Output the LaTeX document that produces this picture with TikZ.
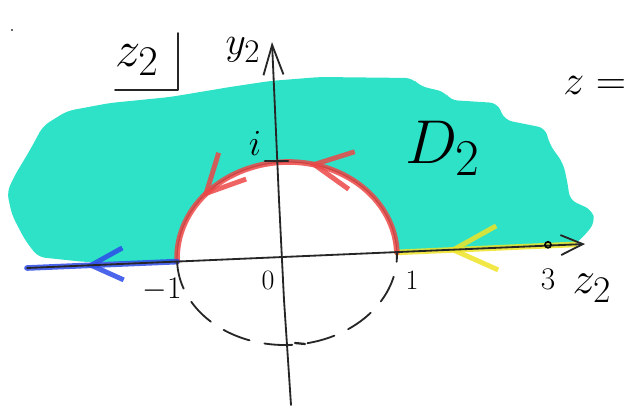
\documentclass[tikz,border=0pt]{standalone}
\usepackage{amsmath}
\usetikzlibrary{arrows.meta,decorations.markings}

\definecolor{sea}{RGB}{46,226,200}
\definecolor{chalkred}{RGB}{236,72,72}
\definecolor{chalkblue}{RGB}{45,75,232}
\definecolor{chalkyellow}{RGB}{238,228,40}

\newcommand{\hand}[2]{\scalebox{#1}{$#2$}}

\tikzset{
  pen/.style={line width=1.3pt,black!85,line cap=round,line join=round},
  chalk/.style={line width=4pt,opacity=0.85,line cap=round},
  barb/.style 2 args={postaction={decorate,decoration={markings,
      mark=at position #1 with {\arrow{Straight Barb[length=#2,width=#2,line width=3.5pt]}}}}},
  lbl/.style={inner sep=0pt,font=\Huge},
  dot/.style={circle,draw,line width=1.2pt,inner sep=0pt,minimum size=0.15cm},
}

\begin{document}
\begin{tikzpicture}[x=0.025cm,y=-0.025cm]
            \useasboundingbox (0,0) rectangle (625,408);
            \coordinate (xl) at (27,268);
            \coordinate (xr) at (585,244);
            \coordinate (ye) at (575,244.4);
            \coordinate (m1) at (177.1,261.6);
            \coordinate (p1) at (396.9,252.4);
            \coordinate (ybot) at (291,405);
            \coordinate (ytop) at (272,42);

            % the shaded domain above the half disc
            \fill[sea,rounded corners=5pt] (p1) -- (ye) -- (586,234) -- (595,222)
              -- (592,210) -- (570,200) -- (567,180) -- (563,163) -- (550,145)
              -- (545,128) -- (505,120) -- (497,103) -- (450,100) -- (445,92)
              -- (420,86) -- (412,78) -- (320,77) -- (270,81) -- (230,87)
              -- (170,97) -- (110,103) -- (67,111) -- (43,126) -- (30,150)
              -- (15,175) -- (7,192) -- (12,215) -- (25,240) -- (38,257)
              -- (85,262) -- (m1)
              -- plot[smooth,domain=180:0,samples=37]
                 ({287+109.9*cos(\x)-3.9*sin(\x)},{257-4.6*cos(\x)-94.9*sin(\x)})
              -- cycle;

            % boundary pieces
            \draw[chalk,chalkyellow,barb={0.715}{1.1cm}] (ye) -- (p1);
            \draw[pen,line width=0.9pt] plot[smooth,domain=0:180,samples=37]
                 ({287+109.9*cos(\x)-3.9*sin(\x)},{257-4.6*cos(\x)-94.9*sin(\x)});
            \draw[chalk,chalkred,barb={0.42}{0.95cm},barb={0.78}{0.95cm}]
                 plot[smooth,domain=0:180,samples=37]
                 ({287+109.9*cos(\x)-3.9*sin(\x)},{257-4.6*cos(\x)-94.9*sin(\x)});
            \draw[chalk,chalkblue,barb={0.61}{0.8cm}] (m1) -- (xl);

            % lower half of the circle
            \draw[pen,dash pattern=on 0.7cm off 0.38cm] plot[smooth,domain=180:360,samples=37]
                 ({287+109.9*cos(\x)-3.6*sin(\x)},{257-4.6*cos(\x)-87.9*sin(\x)});

            % axes
            \draw[pen,-{Straight Barb[length=0.55cm,width=0.5cm]}] (xl) -- (xr);
            \draw[pen,-{Straight Barb[length=0.75cm,width=0.5cm]}] (ybot) -- (284,300)
              -- (279,200) -- (ytop);
            \draw[pen,line width=2pt] (265,161) -- (288,161);
            \draw[pen,line width=1.6pt] (295,343) -- (305,344);
            \node[dot] (pt3) at (548,244.8) {};
            \fill[black!80] (12,30) circle (1.2);

            % labels
            \node[lbl] (zbox) at (137,60) {\hand{1.45}{z_2}};
            \draw[pen] (178,33) -- (178,90) -- (115,90);
            \node[lbl] (ylab) at (243,50) {\hand{1.13}{y_2}};
            \node[lbl] (ilab) at (255,143) {\hand{1.05}{i}};
            \node[lbl] (dlab) at (443,148) {\hand{1.77}{D_2}};
            \node[lbl] (mone) at (162,290) {\hand{0.9}{-1}};
            \node[lbl] (zero) at (268,280) {\hand{0.8}{0}};
            \node[lbl] (one) at (412,280) {\hand{0.8}{1}};
            \node[lbl] (three) at (548,279) {\hand{0.9}{3}};
            \node[lbl] (xlab) at (592,288) {\hand{1.29}{z_2}};
            \node[lbl,anchor=west] (zeq) at (563,85) {\hand{1.2}{z =}};
        \end{tikzpicture}
\end{document}
